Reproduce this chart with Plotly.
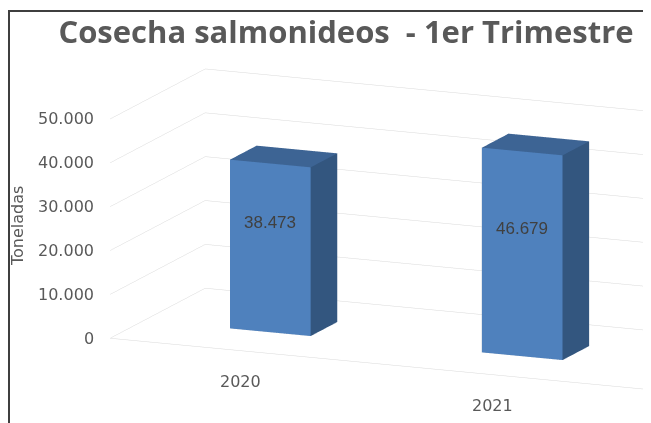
import plotly.graph_objects as go

# ---- data ----
categories = ["2020", "2021"]
values = [38473, 46679]
value_labels = ["38.473", "46.679"]
tick_values = [0, 10000, 20000, 30000, 40000, 50000]
tick_labels = ["0", "10.000", "20.000", "30.000", "40.000", "50.000"]
title_text = "Cosecha salmonideos\u00a0 - 1er Trimestre"
axis_title = "Toneladas"

# ---- style ----
W, H = 651, 423
FRONT = "#4F81BD"
SIDE = "#33567F"
TOP = "#3D6494"
GRID = "#D9D9D9"
TXT = "#595959"
half_w = 0.16          # half bar width (category units)
d0, d1 = 0.36, 0.64    # bar depth span (floor depth units)

fig = go.Figure()

# bars as 3D boxes
for i, v in enumerate(values):
    x0, x1 = i - half_w, i + half_w
    xs = [x0, x1, x1, x0, x0, x1, x1, x0]
    ys = [d0, d0, d1, d1, d0, d0, d1, d1]
    zs = [0, 0, 0, 0, v, v, v, v]
    I = [0, 0, 3, 3, 0, 0, 1, 1, 0, 0, 4, 4]
    J = [1, 5, 2, 6, 3, 7, 2, 6, 1, 2, 5, 6]
    K = [5, 4, 6, 7, 7, 4, 6, 5, 2, 3, 6, 7]
    fc = [FRONT, FRONT, SIDE, SIDE, SIDE, SIDE, SIDE, SIDE, SIDE, SIDE, TOP, TOP]
    fig.add_trace(go.Mesh3d(
        x=xs, y=ys, z=zs, i=I, j=J, k=K, facecolor=fc, flatshading=True,
        lighting=dict(ambient=1.0, diffuse=0.0, specular=0.0, roughness=1.0, fresnel=0.0),
        hoverinfo="skip", showscale=False))

annotations = []
# value labels on bars
for i, (v, lab) in enumerate(zip(values, value_labels)):
    annotations.append(dict(x=i, y=d0, z=v / 2, text=lab, showarrow=False,
                            yshift=25, font=dict(family="Liberation Sans", size=17, color="#404040")))
# category labels
for i, c in enumerate(categories):
    annotations.append(dict(x=i, y=0, z=0, text=c, showarrow=False, yshift=-31, xshift=4,
                            font=dict(family="DejaVu Sans", size=16, color=TXT)))
# value axis tick labels
for t, lab in zip(tick_values, tick_labels):
    annotations.append(dict(x=-0.5, y=0, z=t, text=lab, showarrow=False, xanchor="right",
                            xshift=-14, font=dict(family="DejaVu Sans", size=16, color=TXT)))

axis_common = dict(showbackground=False, showspikes=False, zeroline=False, ticks="",
                   showticklabels=False, title=dict(text=""), autorange=False)

C = (-0.488, 0.0, 0.004)
e = (0.3815, -0.8969, 0.2239)
D = 2.0
eye = dict(x=C[0] + D * e[0], y=C[1] + D * e[1], z=C[2] + D * e[2])

fig.update_layout(
    width=W, height=H,
    margin=dict(l=0, r=0, t=0, b=0),
    paper_bgcolor="white",
    separators=",.",
    hovermode=False,
    showlegend=False,
    title=dict(text=title_text, x=338 / W, xanchor="center", y=1 - 24 / H, yanchor="middle",
               yref="container", xref="container",
               font=dict(family="Open Sans", size=31, color=TXT, weight="bold")),
    scene=dict(
        domain=dict(x=[0, 1], y=[0, 1]),
        xaxis=dict(range=[-0.5, 1.65], showgrid=False, showline=True, linecolor=GRID, linewidth=1, **axis_common),
        yaxis=dict(range=[0, 1], showgrid=False, showline=False, **axis_common),
        zaxis=dict(range=[0, 50010], tickvals=tick_values, showgrid=True, gridcolor=GRID, gridwidth=1,
                   showline=False, **axis_common),
        aspectmode="manual",
        aspectratio=dict(x=2.783, y=1.148, z=1.064),
        camera=dict(eye=eye, center=dict(x=C[0], y=C[1], z=C[2]), up=dict(x=0, y=0, z=1),
                    projection=dict(type="orthographic")),
        bgcolor="rgba(0,0,0,0)",
        annotations=annotations,
    ),
    annotations=[dict(text=axis_title, x=9 / W, y=1 - 218 / H, xref="paper", yref="paper",
                      textangle=-90, showarrow=False, xanchor="center", yanchor="middle",
                      font=dict(family="DejaVu Sans", size=16, color=TXT))],
    shapes=[dict(type="rect", xref="paper", yref="paper", x0=1 / W, x1=1.2, y0=-0.2, y1=1 - 3 / H,
                 line=dict(color="#3F3F3F", width=2), fillcolor="rgba(0,0,0,0)", layer="below")],
)

fig.write_html("out.html", config={"displayModeBar": False})
